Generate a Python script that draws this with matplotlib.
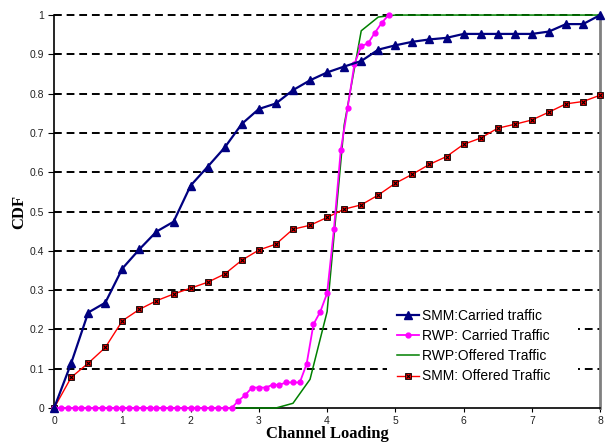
import matplotlib
matplotlib.use("Agg")
import matplotlib.pyplot as plt
from matplotlib.legend_handler import HandlerTuple

# x grid for the 0.25-step series
x_q = [0, 0.25, 0.5, 0.75, 1.0, 1.25, 1.5, 1.75, 2.0, 2.25, 2.5, 2.75, 3.0,
       3.25, 3.5, 3.75, 4.0, 4.25, 4.5, 4.75, 5.0, 5.25, 5.5, 5.75, 6.0,
       6.25, 6.5, 6.75, 7.0, 7.25, 7.5, 7.75, 8.0]

smm_carried = [0, 0.114, 0.243, 0.268, 0.355, 0.404, 0.449, 0.474, 0.566,
               0.614, 0.663, 0.723, 0.761, 0.775, 0.809, 0.834, 0.854, 0.869,
               0.883, 0.912, 0.923, 0.932, 0.938, 0.942, 0.952, 0.952, 0.952,
               0.952, 0.952, 0.958, 0.977, 0.977, 1.0]

smm_offered = [0, 0.078, 0.114, 0.154, 0.222, 0.251, 0.273, 0.290, 0.305,
               0.320, 0.341, 0.376, 0.402, 0.417, 0.455, 0.465, 0.485, 0.506,
               0.517, 0.542, 0.572, 0.595, 0.620, 0.640, 0.671, 0.687, 0.712,
               0.722, 0.733, 0.753, 0.774, 0.780, 0.796]

rwp_offered = [0, 0, 0, 0, 0, 0, 0, 0, 0, 0, 0, 0, 0, 0, 0.012, 0.073, 0.245,
               0.72, 0.96, 0.995, 1.0, 1.0, 1.0, 1.0, 1.0, 1.0, 1.0, 1.0, 1.0,
               1.0, 1.0, 1.0, 1.0]

# RWP carried traffic sampled every 0.1
x_rwp = [0.0, 0.1, 0.2, 0.3, 0.4, 0.5, 0.6, 0.7, 0.8, 0.9, 1.0, 1.1, 1.2, 1.3,
         1.4, 1.5, 1.6, 1.7, 1.8, 1.9, 2.0, 2.1, 2.2, 2.3, 2.4, 2.5, 2.6, 2.7,
         2.8, 2.9, 3.0, 3.1, 3.2, 3.3, 3.4, 3.5, 3.6, 3.7, 3.8, 3.9, 4.0, 4.1,
         4.2, 4.3, 4.4, 4.5, 4.6, 4.7, 4.8, 4.9]
rwp_carried = [0, 0, 0, 0, 0, 0, 0, 0, 0, 0, 0, 0, 0, 0, 0, 0, 0, 0, 0, 0, 0,
               0, 0, 0, 0, 0, 0, 0.018, 0.033, 0.052, 0.052, 0.052, 0.059,
               0.059, 0.065, 0.065, 0.065, 0.112, 0.213, 0.245, 0.292, 0.455,
               0.656, 0.763, 0.875, 0.921, 0.928, 0.955, 0.980, 1.0]

y_ticks = [0, 0.1, 0.2, 0.3, 0.4, 0.5, 0.6, 0.7, 0.8, 0.9, 1]
y_tick_labels = ["0", "0.1", "0.2", "0.3", "0.4", "0.5", "0.6", "0.7", "0.8", "0.9", "1"]
x_ticks = [0, 1, 2, 3, 4, 5, 6, 7, 8]

fig = plt.figure(figsize=(6.08, 4.43), dpi=100)
ax = fig.add_axes([0.089, 0.079, 0.898, 0.887])

# dashed horizontal grid
for yv in y_ticks[1:]:
    ax.axhline(yv, color="black", linestyle=(0, (4, 2.5)), linewidth=1.4,
               zorder=1, clip_on=False)

h_green, = ax.plot(x_q, rwp_offered, color="#008000", linewidth=1.1, zorder=3,
                   clip_on=False)
h_red, = ax.plot(x_q, smm_offered, color="#FF0000", linewidth=1.0, marker="s",
                 markersize=5, markerfacecolor="#FF0000", markeredgecolor="black",
                 markeredgewidth=0.6, zorder=4, clip_on=False)
h_redx, = ax.plot(x_q, smm_offered, linestyle="none", marker="x", markersize=3.5,
                  color="black", markeredgewidth=0.8, zorder=5, clip_on=False)
h_mag, = ax.plot(x_rwp, rwp_carried, color="#FF00FF", linewidth=1.3, marker="o",
                 markersize=3.5, zorder=6, clip_on=False)
h_navy, = ax.plot(x_q, smm_carried, color="#000080", linewidth=1.6, marker="^",
                  markersize=5.5, zorder=7, clip_on=False)

ax.set_xlim(0, 8)
ax.set_ylim(0, 1)
ax.set_xticks(x_ticks)
ax.set_yticks(y_ticks)
ax.set_yticklabels(y_tick_labels)
ax.tick_params(axis="both", direction="out", length=3, width=0.8,
               labelsize=7.5, labelcolor="#222222", pad=3)
ax.tick_params(axis="y", length=4)
for lab in ax.get_xticklabels() + ax.get_yticklabels():
    lab.set_family("Liberation Sans")

ax.spines["top"].set_visible(False)
ax.spines["right"].set_color("#808080")
ax.spines["right"].set_linewidth(2)
ax.spines["left"].set_linewidth(1.2)
ax.spines["bottom"].set_linewidth(1.2)

ax.set_xlabel("Channel Loading", family="Liberation Serif", fontweight="bold",
              fontsize=12, labelpad=0)
ax.set_ylabel("CDF", family="Liberation Serif", fontweight="bold",
              fontsize=12, labelpad=2)

leg = ax.legend([h_navy, h_mag, h_green, (h_red, h_redx)],
                ["SMM:Carried traffic", "RWP: Carried Traffic",
                 "RWP:Offered Traffic", "SMM: Offered Traffic"],
                handler_map={tuple: HandlerTuple(ndivide=1)},
                loc="lower left", bbox_to_anchor=(0.597, 0.02, 0.376, 0.25),
                mode="expand", frameon=True, facecolor="white", edgecolor="none",
                framealpha=1, fancybox=False, handlelength=1.6, handletextpad=0.2,
                labelspacing=0.45, borderpad=0.7,
                prop={"family": "Liberation Sans", "size": 10})
leg.set_zorder(10)

fig.savefig("out.png", dpi=100)
